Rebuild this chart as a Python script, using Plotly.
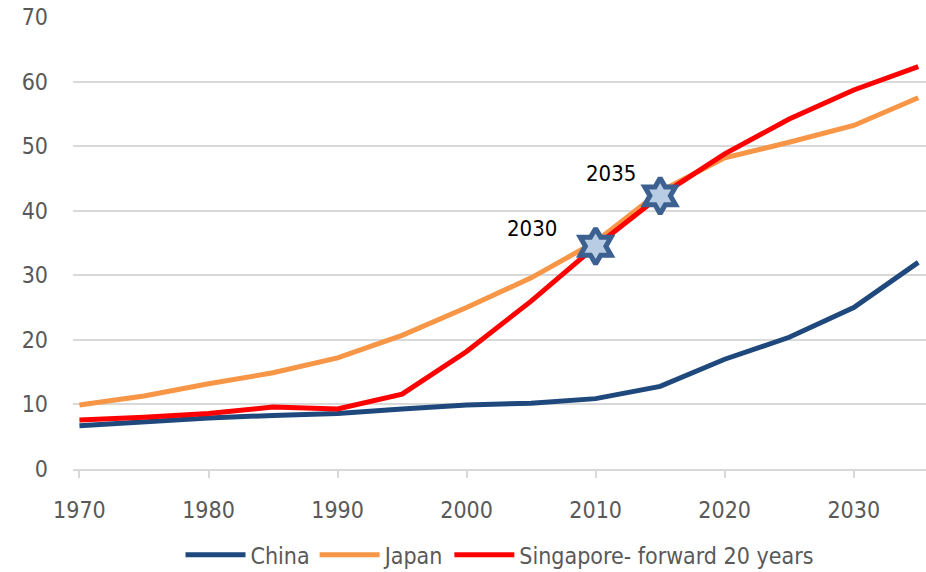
import plotly.graph_objects as go

years = [1970, 1975, 1980, 1985, 1990, 1995, 2000, 2005, 2010, 2015, 2020, 2025, 2030, 2035]
china = [6.7, 7.3, 7.9, 8.3, 8.6, 9.3, 9.9, 10.2, 10.9, 12.8, 17.0, 20.4, 25.0, 32.0]
japan = [9.9, 11.3, 13.2, 14.9, 17.2, 20.7, 25.0, 29.6, 35.2, 43.0, 48.2, 50.6, 53.2, 57.5]
singapore = [7.6, 8.0, 8.6, 9.6, 9.3, 11.6, 18.2, 26.0, 34.5, 42.3, 48.8, 54.2, 58.7, 62.3]

# Singapore points shifted forward 20 years, highlighted with stars
star_years = [2010, 2015]
star_labels = ["2030", "2035"]
star_values = [singapore[years.index(y)] for y in star_years]

FONT = "DejaVu Sans Condensed, DejaVu Sans, sans-serif"

fig = go.Figure()
fig.add_trace(go.Scatter(x=years, y=china, mode="lines", name="China",
                         line=dict(color="#1F497D", width=5)))
fig.add_trace(go.Scatter(x=years, y=japan, mode="lines", name="Japan",
                         line=dict(color="#F79646", width=5)))
fig.add_trace(go.Scatter(x=years, y=singapore, mode="lines", name="Singapore- forward 20 years",
                         line=dict(color="#FF0000", width=5)))
fig.add_trace(go.Scatter(x=star_years, y=star_values, mode="markers", showlegend=False,
                         marker=dict(symbol="hexagram", size=27, color="#B8CCE4",
                                     line=dict(color="#3C6090", width=5))))

for yr, val, lab, dx, dy in zip(star_years, star_values, star_labels, [-64, -49], [18, 22]):
    fig.add_annotation(x=yr, y=val, text=lab, showarrow=False, xshift=dx, yshift=dy,
                       font=dict(family=FONT, size=22, color="#000000"))

fig.update_layout(
    width=926, height=572,
    margin=dict(l=73, r=0, t=17, b=103, autoexpand=False),
    plot_bgcolor="white", paper_bgcolor="white",
    font=dict(family=FONT, size=23, color="#595959"),
    showlegend=True,
    legend=dict(orientation="h", x=0.5, xanchor="center", y=-0.19, yanchor="middle",
                font=dict(family=FONT, size=23, color="#595959"), itemwidth=60,
                tracegroupgap=0),
    xaxis=dict(range=[1969.5, 2035.6], tickvals=[1970, 1980, 1990, 2000, 2010, 2020, 2030],
               showgrid=False, zeroline=False, showline=True, linecolor="#D9D9D9", linewidth=2,
               ticks="outside", ticklen=7, tickcolor="#D9D9D9", tickwidth=2, automargin=False,
               ticklabelstandoff=12, tickfont=dict(size=23, color="#595959")),
    yaxis=dict(range=[0, 70], dtick=10, showgrid=True, gridcolor="#D9D9D9", gridwidth=1.5,
               zeroline=False, showline=False, ticks="", ticklabelstandoff=24, automargin=False,
               tickfont=dict(size=23, color="#595959")),
)

fig.write_html("out.html")
